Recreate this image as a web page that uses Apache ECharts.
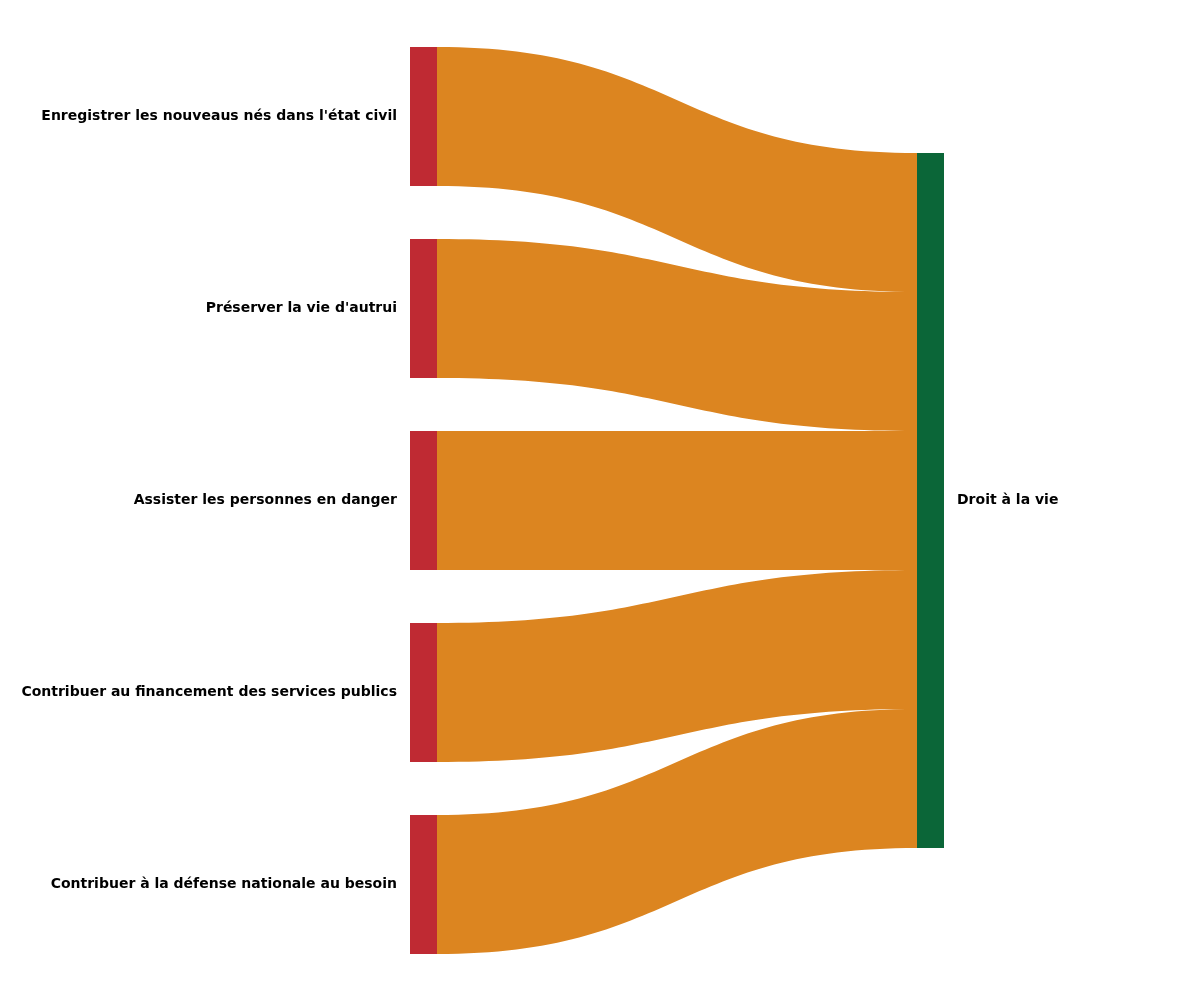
<!DOCTYPE html>
<html><head><meta charset="utf-8">
<script src="https://cdn.jsdelivr.net/npm/echarts@6/dist/echarts.min.js"></script>
<style>html,body{margin:0;padding:0;background:#fff}#c{width:1180px;height:982px}</style>
</head><body><div id="c"></div>
<script>
const sources = [
  "Enregistrer les nouveaus nés dans l'état civil",
  "Préserver la vie d'autrui",
  "Assister les personnes en danger",
  "Contribuer au financement des services publics",
  "Contribuer à la défense nationale au besoin"
];
const target = "Droit à la vie";
const values = [1, 1, 1, 1, 1];

const nodes = sources.map(n => ({name: n, itemStyle: {color: '#BF2A33'}, label: {position: 'left'}}))
  .concat([{name: target, itemStyle: {color: '#0B6638'}, label: {position: 'right'}}]);
const links = sources.map((s, i) => ({source: s, target: target, value: values[i]}));

const chart = echarts.init(document.getElementById('c'));
chart.setOption({
  animation: false,
  series: [{
    type: 'sankey',
    left: 410, right: 236, top: 47, bottom: 28,
    nodeWidth: 27, nodeGap: 53,
    layoutIterations: 32,
    draggable: false,
    data: nodes,
    links: links,
    lineStyle: {color: '#DC8520', opacity: 1, curveness: 0.5},
    itemStyle: {borderWidth: 0},
    emphasis: {disabled: true},
    label: {
      color: '#000', fontSize: 14, fontWeight: 'bold',
      fontFamily: 'DejaVu Sans', distance: 13
    }
  }]
});
</script></body></html>
